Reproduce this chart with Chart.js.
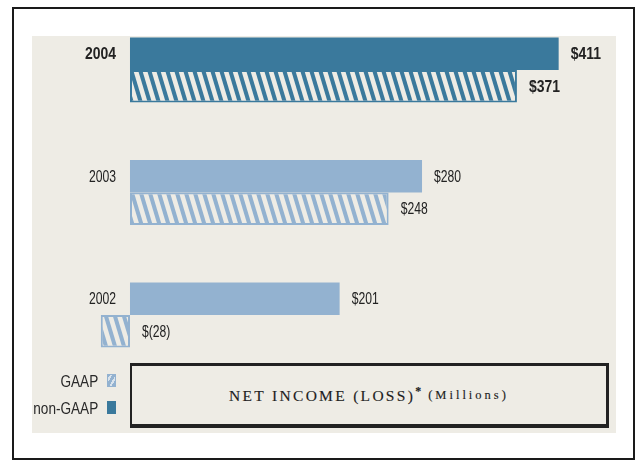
<!DOCTYPE html>
<html lang="en">
<head>
<meta charset="UTF-8">
<title>Net Income (Loss)</title>
<script src="https://cdn.jsdelivr.net/npm/chart.js"></script>
<style>
  body { margin: 0; background: #fff; }
  #page { position: relative; width: 642px; height: 462px; overflow: hidden; }
  #frame { position: absolute; left: 12px; top: 7px; width: 623px; height: 453px; border: 2px solid #1a1a1a; box-sizing: border-box; }
  #panel { position: absolute; left: 32px; top: 36px; width: 584px; height: 397px; background: #eeece5; }
  #chartBox { position: absolute; left: 0; top: 0; width: 642px; height: 400px; }
  /* narrow sans: Liberation Sans squeezed horizontally */
  .legend { position: absolute; right: 544px; font: 17px "Liberation Sans", Arial, sans-serif; color: #2a2a2a;
    white-space: nowrap; line-height: 16px; transform: scaleX(0.8); transform-origin: right center; }
  .swatch { position: absolute; left: 107px; width: 9px; height: 13px; box-sizing: border-box; }
  #titleBox { position: absolute; left: 130px; top: 363px; width: 479px; height: 65px; box-sizing: border-box;
    border-style: solid; border-color: #222; border-width: 3px 3px 4px 2px; background: #eeece5;
    display: flex; align-items: center; justify-content: center;
    font-family: "Liberation Serif", "DejaVu Serif", serif; color: #1e1e1e; -webkit-text-stroke: 0.15px #1e1e1e; }
  #titleBox .main { font-size: 15.5px; letter-spacing: 2.3px; }
  #titleBox sup { font-size: 12px; font-weight: bold; letter-spacing: 0; }
  #titleBox .unit { font-size: 12.5px; letter-spacing: 3px; margin-left: 7px; }
</style>
</head>
<body>
<div id="page">
  <div id="frame"></div>
  <div id="panel"></div>
  <div id="chartBox"><canvas id="incomeChart"></canvas></div>

  <div class="legend" style="top:374px;">GAAP</div>
  <div class="swatch" style="top:374px; background: repeating-linear-gradient(-60deg, #93b2d0 0 3px, #d9e3ec 3px 5px); border: 1.5px solid #93b2d0;"></div>
  <div class="legend" style="top:401px;">non-GAAP</div>
  <div class="swatch" style="top:401px; background:#3a799c;"></div>

  <div id="titleBox"><span class="main">NET INCOME (LOSS)<sup>*</sup></span><span class="unit">(Millions)</span></div>
</div>

<script>
    // net income in $ millions, per fiscal year
    const years = ['2004', '2003', '2002'];
    const nonGaap = [411, 280, 201];
    const gaap = [371, 248, -28];

    // 2004 is drawn dark, earlier years light
    const yearColors = ['#3a799c', '#93b2d0', '#93b2d0'];
    const beige = '#eeece5';

    // diagonal stripe fill for the GAAP bars
    function hatch(color) {
        const c = document.createElement('canvas');
        c.width = 9;
        c.height = 30;
        const g = c.getContext('2d');
        g.fillStyle = beige;
        g.fillRect(0, 0, 9, 30);
        g.fillStyle = color;
        for (let k = -2; k <= 2; k++) {
            const x = k * 9;
            g.beginPath();
            g.moveTo(x, 0);
            g.lineTo(x + 4.2, 0);
            g.lineTo(x + 13.2, 30);
            g.lineTo(x + 9, 30);
            g.closePath();
            g.fill();
        }
        return g.createPattern(c, 'repeat');
    }

    const fmt = v => v < 0 ? '$(' + Math.abs(v) + ')' : '$' + v;

    // condensed text: draw with a horizontal squeeze
    function narrowText(ctx, text, x, y, align, bold) {
        const sx = bold ? 0.82 : 0.76;
        ctx.save();
        ctx.font = (bold ? 'bold 17px' : '16px') + ' "Liberation Sans", Arial, sans-serif';
        ctx.textAlign = align;
        ctx.translate(x, y);
        ctx.scale(sx, 1);
        ctx.fillText(text, 0, 0);
        ctx.restore();
    }

    const labelPlugin = {
        id: 'barLabels',
        afterDatasetsDraw(chart) {
            const ctx = chart.ctx;
            const zero = chart.scales.x.getPixelForValue(0);
            ctx.save();
            ctx.fillStyle = '#222';
            ctx.textBaseline = 'middle';
            chart.data.datasets.forEach((ds, di) => {
                chart.getDatasetMeta(di).data.forEach((bar, i) => {
                    const v = ds.data[i];
                    const bold = i === 0;
                    const x = v < 0 ? zero + 12 : bar.x + 12;
                    narrowText(ctx, fmt(v), x, bar.y + 1, 'left', bold);
                    if (di === 0) {
                        narrowText(ctx, years[i], 116, bar.y + 1, 'right', bold);
                    }
                });
            });
            ctx.restore();
        }
    };

    const ctx = document.getElementById('incomeChart').getContext('2d');
    const incomeChart = new Chart(ctx, {
        type: 'bar',
        data: {
            labels: years,
            datasets: [{
                label: 'non-GAAP',
                data: nonGaap,
                backgroundColor: yearColors,
                borderWidth: 0
            }, {
                label: 'GAAP',
                data: gaap,
                backgroundColor: yearColors.map(hatch),
                borderColor: yearColors,
                borderWidth: 2,
                borderSkipped: false
            }]
        },
        options: {
            indexAxis: 'y',
            responsive: true,
            maintainAspectRatio: false,
            animation: false,
            layout: { padding: { left: 98.7, right: 53.1, top: 8.6, bottom: 23.6 } },
            datasets: { bar: { categoryPercentage: 0.53, barPercentage: 1 } },
            scales: {
                x: { display: false, min: -30, max: 440 },
                y: { display: false }
            },
            plugins: {
                legend: { display: false },
                tooltip: { enabled: false }
            }
        },
        plugins: [labelPlugin]
    });
</script>
</body>
</html>
